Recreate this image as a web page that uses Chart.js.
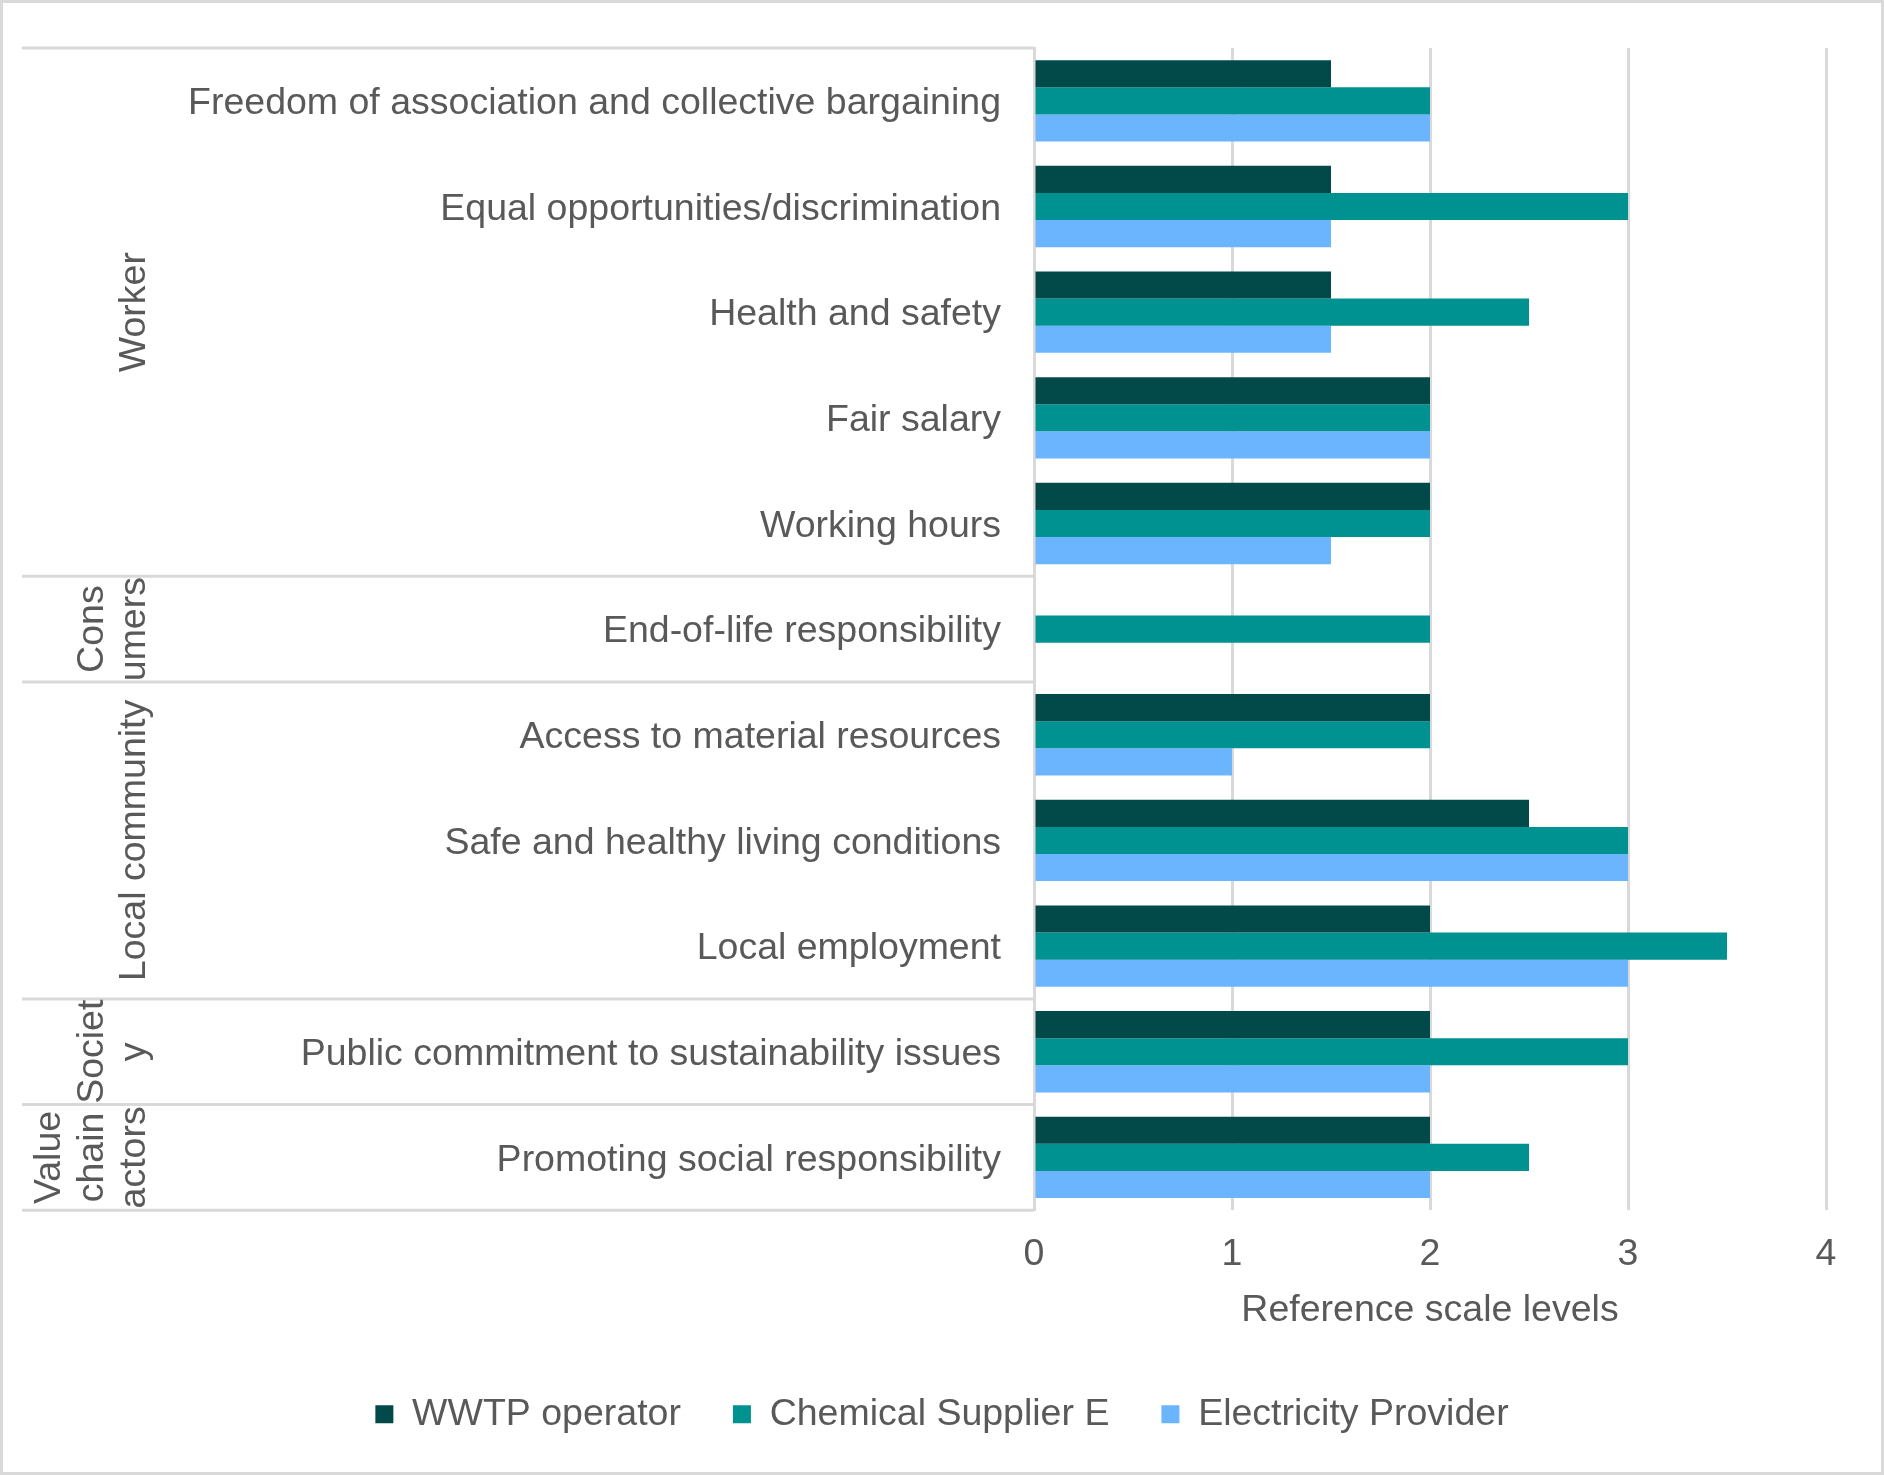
<!DOCTYPE html>
<html>
<head>
<meta charset="utf-8">
<script src="https://cdn.jsdelivr.net/npm/chart.js@4/dist/chart.umd.min.js"></script>
<style>
  html, body { margin: 0; padding: 0; background: #fff; }
  canvas { display: block; }
</style>
</head>
<body>
<canvas id="chart" width="1884" height="1475"></canvas>
<script>
// categories, top to bottom
const categories = [
    'Freedom of association and collective bargaining',
    'Equal opportunities/discrimination',
    'Health and safety',
    'Fair salary',
    'Working hours',
    'End-of-life responsibility',
    'Access to material resources',
    'Safe and healthy living conditions',
    'Local employment',
    'Public commitment to sustainability issues',
    'Promoting social responsibility'
];

// stakeholder groups (outer axis level), with how many categories each spans
const groupLabels = [['Worker'], ['Cons', 'umers'], ['Local community'], ['Societ', 'y'], ['Value', 'chain', 'actors']];
const groupSizes = [5, 1, 3, 1, 1];

const seriesNames = ['WWTP operator', 'Chemical Supplier E', 'Electricity Provider'];
const wwtpValues = [1.5, 1.5, 1.5, 2, 2, null, 2, 2.5, 2, 2, 2];
const chemicalValues = [2, 3, 2.5, 2, 2, 2, 2, 3, 3.5, 3, 2.5];
const electricityValues = [2, 1.5, 1.5, 2, 1.5, null, 1, 3, 3, 2, 2];

const xTicks = [0, 1, 2, 3, 4];
const xTitle = 'Reference scale levels';

const seriesColors = ['#024a49', '#009290', '#6bb5ff'];
const gridColor = '#d9d9d9';
const textColor = '#595959';
const fontFamily = '"Liberation Sans", Arial, sans-serif';

Chart.defaults.font.family = fontFamily;
Chart.defaults.font.size = 37.5;
Chart.defaults.color = textColor;

// frame + group labels of the two-level category axis, and the outer border
const groupAxisPlugin = {
    id: 'groupAxis',
    beforeDraw(chart) {
        const ctx = chart.ctx;
        ctx.save();
        ctx.strokeStyle = gridColor;
        ctx.lineWidth = 3;
        ctx.strokeRect(1.5, 1.5, chart.width - 3, chart.height - 3);
        ctx.restore();
    },
    afterDraw(chart) {
        const ctx = chart.ctx;
        const y = chart.scales.y;
        const step = y.getPixelForValue(1) - y.getPixelForValue(0);
        const left = 22;
        const right = chart.chartArea.left;

        ctx.save();
        ctx.strokeStyle = gridColor;
        ctx.lineWidth = 3;

        let idx = 0;
        const edges = [y.getPixelForValue(0) - step / 2];
        groupSizes.forEach(n => {
            idx += n;
            edges.push(y.getPixelForValue(idx - 1) + step / 2);
        });
        edges.forEach(py => {
            ctx.beginPath();
            ctx.moveTo(left, py);
            ctx.lineTo(right, py);
            ctx.stroke();
        });

        ctx.fillStyle = textColor;
        ctx.font = '37.5px ' + fontFamily;
        ctx.textAlign = 'center';
        ctx.textBaseline = 'alphabetic';
        const lastBaseline = 145;
        const lineGap = 42.5;
        groupLabels.forEach((lines, g) => {
            const mid = (edges[g] + edges[g + 1]) / 2;
            lines.forEach((line, i) => {
                const bx = lastBaseline - lineGap * (lines.length - 1 - i);
                ctx.save();
                ctx.translate(bx, mid);
                ctx.rotate(-Math.PI / 2);
                ctx.fillText(line, 0, 0);
                ctx.restore();
            });
        });
        ctx.restore();
    }
};

new Chart(document.getElementById('chart'), {
    type: 'bar',
    data: {
        labels: categories,
        datasets: [
            { label: seriesNames[0], data: wwtpValues, backgroundColor: seriesColors[0] },
            { label: seriesNames[1], data: chemicalValues, backgroundColor: seriesColors[1] },
            { label: seriesNames[2], data: electricityValues, backgroundColor: seriesColors[2] }
        ]
    },
    options: {
        indexAxis: 'y',
        responsive: false,
        animation: false,
        devicePixelRatio: 1,
        datasets: {
            bar: { categoryPercentage: 0.77, barPercentage: 1.0, borderWidth: 0 }
        },
        layout: { padding: { left: 0, right: 0, top: 48, bottom: 32 } },
        scales: {
            x: {
                min: xTicks[0],
                max: xTicks[xTicks.length - 1],
                afterBuildTicks(axis) { axis.ticks = xTicks.map(v => ({ value: v })); },
                afterFit(axis) { axis.height = 133.25; },
                grid: { color: gridColor, lineWidth: 3, drawTicks: false },
                border: { display: false },
                ticks: { padding: 22, color: textColor },
                title: { display: true, text: xTitle, color: textColor, padding: { top: 0, bottom: 10 } }
            },
            y: {
                afterFit(axis) {
                    axis.width = 1034;
                    axis.paddingTop = 0;
                    axis.paddingBottom = 0;
                },
                grid: { display: false, drawTicks: false },
                border: { display: true, color: gridColor, width: 3 },
                ticks: { padding: 33, labelOffset: 3, color: textColor, autoSkip: false }
            },
            yr: {
                type: 'category',
                axis: 'y',
                position: 'right',
                afterFit(axis) {
                    axis.width = 58;
                    axis.paddingTop = 0;
                    axis.paddingBottom = 0;
                },
                grid: { display: false, drawTicks: false },
                border: { display: false },
                ticks: { display: false }
            }
        },
        plugins: {
            legend: {
                position: 'bottom',
                labels: { boxWidth: 18, boxHeight: 18, padding: 52, color: textColor }
            },
            tooltip: { enabled: false }
        }
    },
    plugins: [groupAxisPlugin]
});
</script>
</body>
</html>
